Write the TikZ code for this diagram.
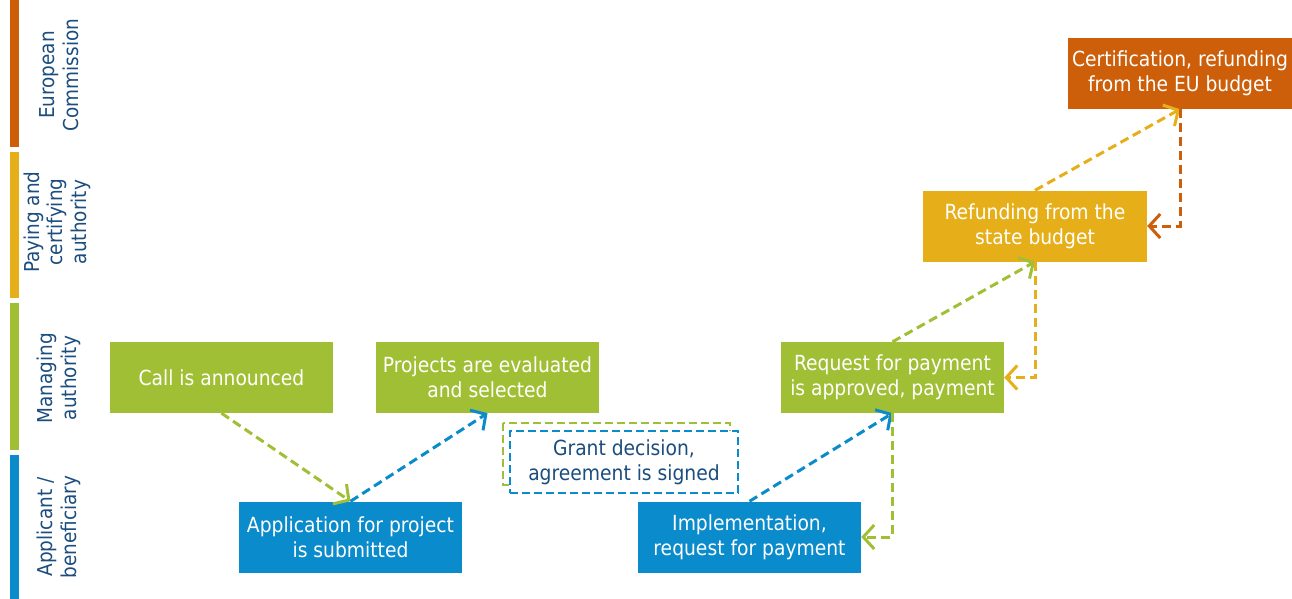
\documentclass[tikz,border=0pt]{standalone}
\usepackage{fontspec}
\setmainfont{DejaVu Sans Condensed}
\usetikzlibrary{arrows.meta}
\definecolor{ecorange}{HTML}{CD5F0B}
\definecolor{payyellow}{HTML}{E6AF19}
\definecolor{mgreen}{HTML}{A1BF35}
\definecolor{appblue}{HTML}{0A8BCB}
\definecolor{txtblue}{HTML}{1B4D7E}
\tikzset{
  stepbox/.style={minimum width=223pt, minimum height=71pt, inner sep=0pt, align=center, text=white, font=\fontsize{20.8}{25}\selectfont},
  lanelabel/.style={rotate=90, align=center, text=txtblue, font=\fontsize{20.5}{23.5}\selectfont},
  flow/.style={dash pattern=on 9pt off 5pt, line width=3pt, -{Straight Barb[length=11pt, width=24pt, line width=3pt]}},
}
\begin{document}
\begin{tikzpicture}[x=1pt, y=-1pt]
\useasboundingbox (0,0) rectangle (1292,599);
% lane bars
\fill[ecorange] (10,0) rectangle (19,147);
\fill[payyellow] (10,152) rectangle (19,298);
\fill[mgreen] (10,303) rectangle (19,450);
\fill[appblue] (10,455) rectangle (19,599);
% lane labels
\node[lanelabel] (l1) at (59,75) {European\\Commission};
\node[lanelabel] (l2) at (57,222) {Paying and\\certifying\\authority};
\node[lanelabel] (l3) at (59,378) {Managing\\authority};
\node[lanelabel] (l4) at (59,527) {Applicant /\\beneficiary};
% steps
\node[stepbox, fill=mgreen] (call) at (221.5,377.5) {Call is announced};
\node[stepbox, fill=mgreen] (proj) at (487.5,377.5) {Projects are evaluated\\and selected};
\node[stepbox, fill=appblue] (app) at (350.5,537) {Application for project\\is submitted};
\node[stepbox, fill=appblue] (impl) at (749.5,537) {Implementation,\\request for payment};
\node[stepbox, fill=mgreen] (req) at (892.5,377.5) {Request for payment\\is approved, payment};
\node[stepbox, fill=payyellow, minimum width=224pt] (ref) at (1035,226) {Refunding from the\\state budget};
\node[stepbox, fill=ecorange, minimum width=224pt] (cert) at (1180,73.5) {Certification, refunding\\from the EU budget};
% grant decision (double dashed frame)
\draw[mgreen, line width=2.6pt, dash pattern=on 8pt off 4pt] (503,423) rectangle (730,485);
\node[draw=appblue, fill=white, line width=2.6pt, dash pattern=on 8pt off 4pt, minimum width=228pt, minimum height=62pt, inner sep=0pt, align=center, text=txtblue, font=\fontsize{20.8}{25}\selectfont] (grant) at (624,462) {Grant decision,\\agreement is signed};
% connectors
\draw[flow, mgreen] (call.south) -- (app.north);
\draw[flow, appblue] (app.north) -- (proj.south);
\draw[flow, appblue] (impl.north) -- (req.south);
\draw[flow, mgreen] (req.south) |- (impl.east);
\draw[flow, mgreen] (req.north) -- (ref.south);
\draw[flow, payyellow] (ref.south) |- (req.east);
\draw[flow, payyellow] (ref.north) -- (cert.south);
\draw[flow, ecorange] (cert.south) |- (ref.east);
\end{tikzpicture}
\end{document}
